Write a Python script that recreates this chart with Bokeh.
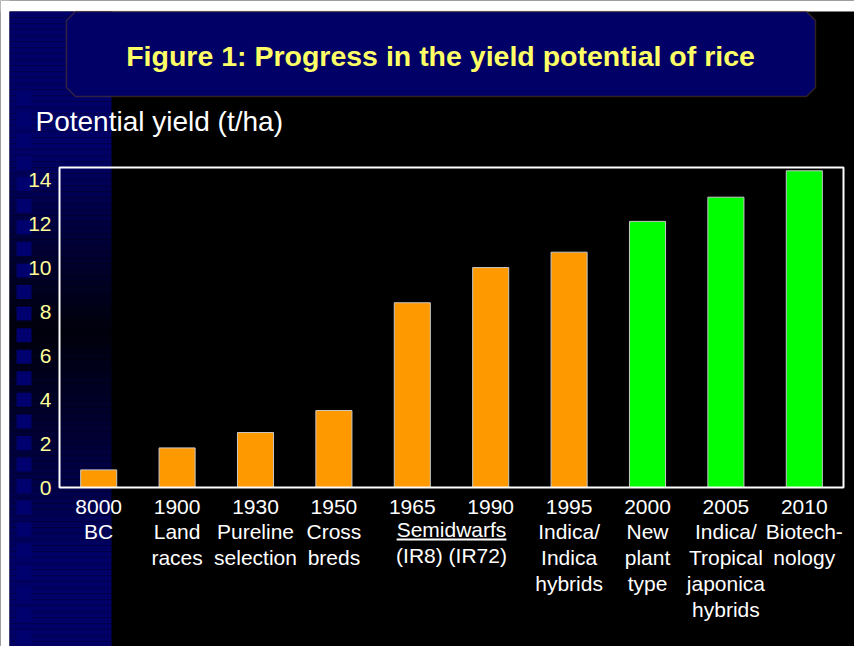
from bokeh.plotting import figure
from bokeh.models import (Range1d, FixedTicker, Label, BoxAnnotation, PolyAnnotation,
                          ColumnDataSource)
from bokeh.embed import file_html
from bokeh.resources import INLINE

# ---------------- data ----------------
years = ["8000", "1900", "1930", "1950", "1965", "1990", "1995", "2000", "2005", "2010"]
descriptions = ["BC", "Land\nraces", "Pureline\nselection", "Cross\nbreds", "", "",
                "Indica/\nIndica\nhybrids", "New\nplant\ntype", "Indica/\nTropical\njaponica\nhybrids",
                "Biotech-\nnology"]
yields = [0.8, 1.8, 2.5, 3.5, 8.4, 10.0, 10.7, 12.1, 13.2, 14.4]
stage = ["conventional"] * 7 + ["future"] * 3
stage_colors = {"conventional": "#FF9900", "future": "#00FF00"}
y_ticks = [0, 2, 4, 6, 8, 10, 12, 14]
y_max = 14.55
group_label = "Semidwarfs"
group_varieties = "(IR8) (IR72)"
group_members = ["1965", "1990"]

title_text = "Figure 1: Progress in the yield potential of rice"
y_title = "Potential yield (t/ha)"

FONT = "Liberation Sans"

# ---------------- layout (pixels) ----------------
W, H = 854, 646
PL, PR, PT, PB = 59, 843, 167, 487          # chart box edges on the canvas
n = len(years)
xs_per_px = n / (PR - PL)
ys_per_px = y_max / (PB - PT)
x_range = Range1d(-0.5 - PL * xs_per_px, n - 0.5 + (W - PR) * xs_per_px)
y_range = Range1d(-(H - PB) * ys_per_px, y_max + PT * ys_per_px)

x_idx = list(range(n))
src = ColumnDataSource(dict(x=x_idx, y=yields, color=[stage_colors[s] for s in stage]))

p = figure(width=W, height=H, x_range=x_range, y_range=y_range,
           output_backend="svg", toolbar_location=None,
           min_border=0, min_border_left=0, min_border_right=0, min_border_top=0, min_border_bottom=0)
p.background_fill_color = "black"
p.border_fill_color = "black"
p.outline_line_color = None
p.grid.visible = False


def cbox(l, r, t, b, color, level="underlay"):
    p.add_layout(BoxAnnotation(left=l, right=r, top=t, bottom=b, left_units="canvas", right_units="canvas",
                               top_units="canvas", bottom_units="canvas", fill_color=color, fill_alpha=1,
                               line_color=None, level=level))


# ---------------- decorations (canvas units) ----------------
cbox(0, W, 0, 11, "white")
cbox(0, 9, 0, H, "white")

keys = [(11, 102), (150, 102), (330, 12), (560, 102), (646, 102)]
step = 6
yy = 11
while yy < H:
    mid = yy + step / 2
    c = keys[-1][1]
    for (a, ca), (b, cb) in zip(keys[:-1], keys[1:]):
        if a <= mid <= b:
            c = ca + (cb - ca) * (mid - a) / (b - a)
            break
    cbox(9, 111, yy, min(yy + step, H), (0, 0, int(round(c))))
    yy += step

k = 0
while True:
    top = 90.5 + 21.56 * k
    if top > 640:
        break
    cbox(16, 31, top, min(top + 14, H), (0, 0, 110))
    k += 1

p.add_layout(PolyAnnotation(xs=[75, 806, 815, 815, 806, 75, 66, 66], ys=[11, 11, 20, 87, 96, 96, 87, 20],
                            xs_units="canvas", ys_units="canvas", fill_color="#000066", fill_alpha=1,
                            line_color="#A07000", line_width=1.5, level="underlay"))

# ---------------- bars ----------------
p.vbar(x="x", top="y", width=0.46, bottom=0, source=src, fill_color="color",
       line_color="#C8C8C8", line_width=1)

# chart box
p.add_layout(BoxAnnotation(left=-0.5, right=n - 0.5, bottom=0, top=y_max, fill_alpha=0,
                           line_color="white", line_width=2, line_alpha=1))

# ---------------- axes ----------------
p.yaxis.fixed_location = -0.5
p.yaxis.ticker = FixedTicker(ticks=y_ticks)
p.yaxis.axis_line_color = None
p.yaxis.major_tick_line_color = None
p.yaxis.minor_tick_line_color = None
p.yaxis.major_tick_out = 0
p.yaxis.major_tick_in = 0
p.yaxis.major_label_standoff = 8
p.yaxis.major_label_text_color = "#FFFF99"
p.yaxis.major_label_text_font = FONT
p.yaxis.major_label_text_font_size = "21px"

p.xaxis.fixed_location = 0
p.xaxis.ticker = FixedTicker(ticks=x_idx)
p.xaxis.major_label_overrides = {i: (f"{y}\n{d}" if d else y) for i, y, d in zip(x_idx, years, descriptions)}
p.xaxis.axis_line_color = None
p.xaxis.major_tick_line_color = None
p.xaxis.minor_tick_line_color = None
p.xaxis.major_tick_out = 0
p.xaxis.major_tick_in = 0
p.xaxis.major_label_standoff = 7
p.xaxis.major_label_text_color = "white"
p.xaxis.major_label_text_font = FONT
p.xaxis.major_label_text_font_size = "21px"
p.xaxis.major_label_text_line_height = 1.13

# shared group label
gx = sum(years.index(m) for m in group_members) / len(group_members)
p.add_layout(Label(x=gx, y=529, x_units="data", y_units="canvas", text=group_label,
                   text_align="center", text_baseline="middle", text_color="white",
                   text_font=FONT, text_font_size="21px"))
p.add_layout(BoxAnnotation(left=gx - 0.7, right=gx + 0.7, top=538, bottom=540, left_units="data",
                           right_units="data", top_units="canvas", bottom_units="canvas",
                           fill_color="white", fill_alpha=1, line_color=None))
p.add_layout(Label(x=gx, y=555, x_units="data", y_units="canvas", text=group_varieties,
                   text_align="center", text_baseline="middle", text_color="white",
                   text_font=FONT, text_font_size="21px"))

# titles
p.add_layout(Label(x=35, y=121, x_units="canvas", y_units="canvas", text=y_title, text_align="left",
                   text_baseline="middle", text_color="white", text_font=FONT, text_font_size="28px"))
p.add_layout(Label(x=440, y=55, x_units="canvas", y_units="canvas", text=title_text, text_align="center",
                   text_baseline="middle", text_color="#FFFF66", text_font=FONT, text_font_size="28.5px",
                   text_font_style="bold"))

open("out.html", "w").write(file_html(p, INLINE))
